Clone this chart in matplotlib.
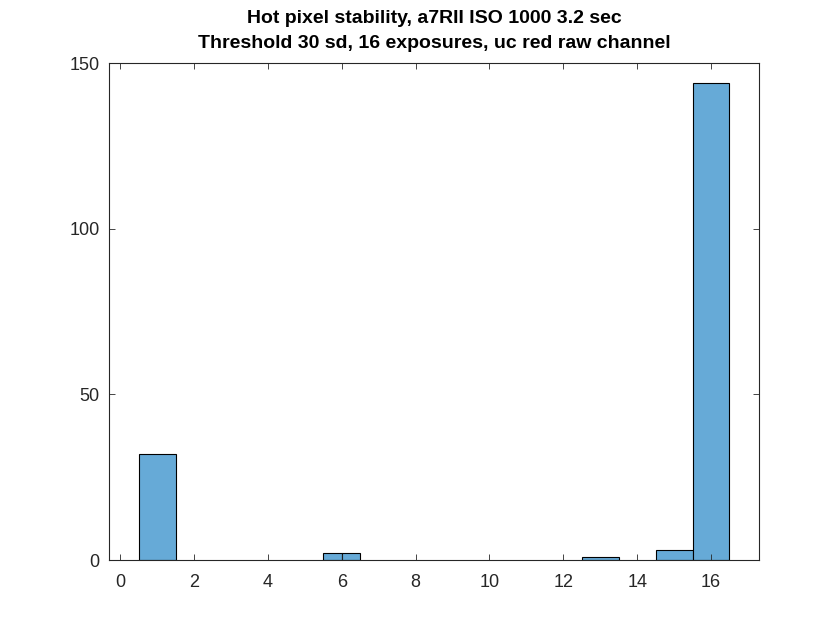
import matplotlib
matplotlib.use("Agg")
import matplotlib.pyplot as plt

# histogram bins (left edge, width) and counts
bin_left = [0.5, 5.5, 6.0, 12.5, 14.5, 15.5]
bin_width = [1.0, 0.5, 0.5, 1.0, 1.0, 1.0]
counts = [32, 2, 2, 1, 3, 144]

x_ticks = [0, 2, 4, 6, 8, 10, 12, 14, 16]
y_ticks = [0, 50, 100, 150]

plt.rcParams["font.family"] = ["Liberation Sans", "DejaVu Sans"]
ax_color = "#262626"

fig = plt.figure(figsize=(8.4, 6.3), dpi=100)
ax = fig.add_axes([0.13, 0.111, 0.7736, 0.789])

ax.bar(bin_left, counts, width=bin_width, align="edge",
       color="#66aad7", edgecolor="black", linewidth=0.8)

ax.set_xlim(-0.3, 17.3)
ax.set_ylim(0, 150)
ax.set_xticks(x_ticks)
ax.set_yticks(y_ticks)
ax.tick_params(direction="in", length=4, width=0.6, colors=ax_color,
               labelsize=13, top=True, right=True)
ax.tick_params(axis="x", pad=10)
ax.tick_params(axis="y", pad=7)
for s in ax.spines.values():
    s.set_color(ax_color)
    s.set_linewidth(0.8)

ax.set_title("Hot pixel stability, a7RII ISO 1000 3.2 sec\n"
             "Threshold 30 sd, 16 exposures, uc red raw channel",
             fontsize=14, fontweight="bold", color="black", pad=11,
             linespacing=1.6)

fig.savefig("out.png", dpi=100)
